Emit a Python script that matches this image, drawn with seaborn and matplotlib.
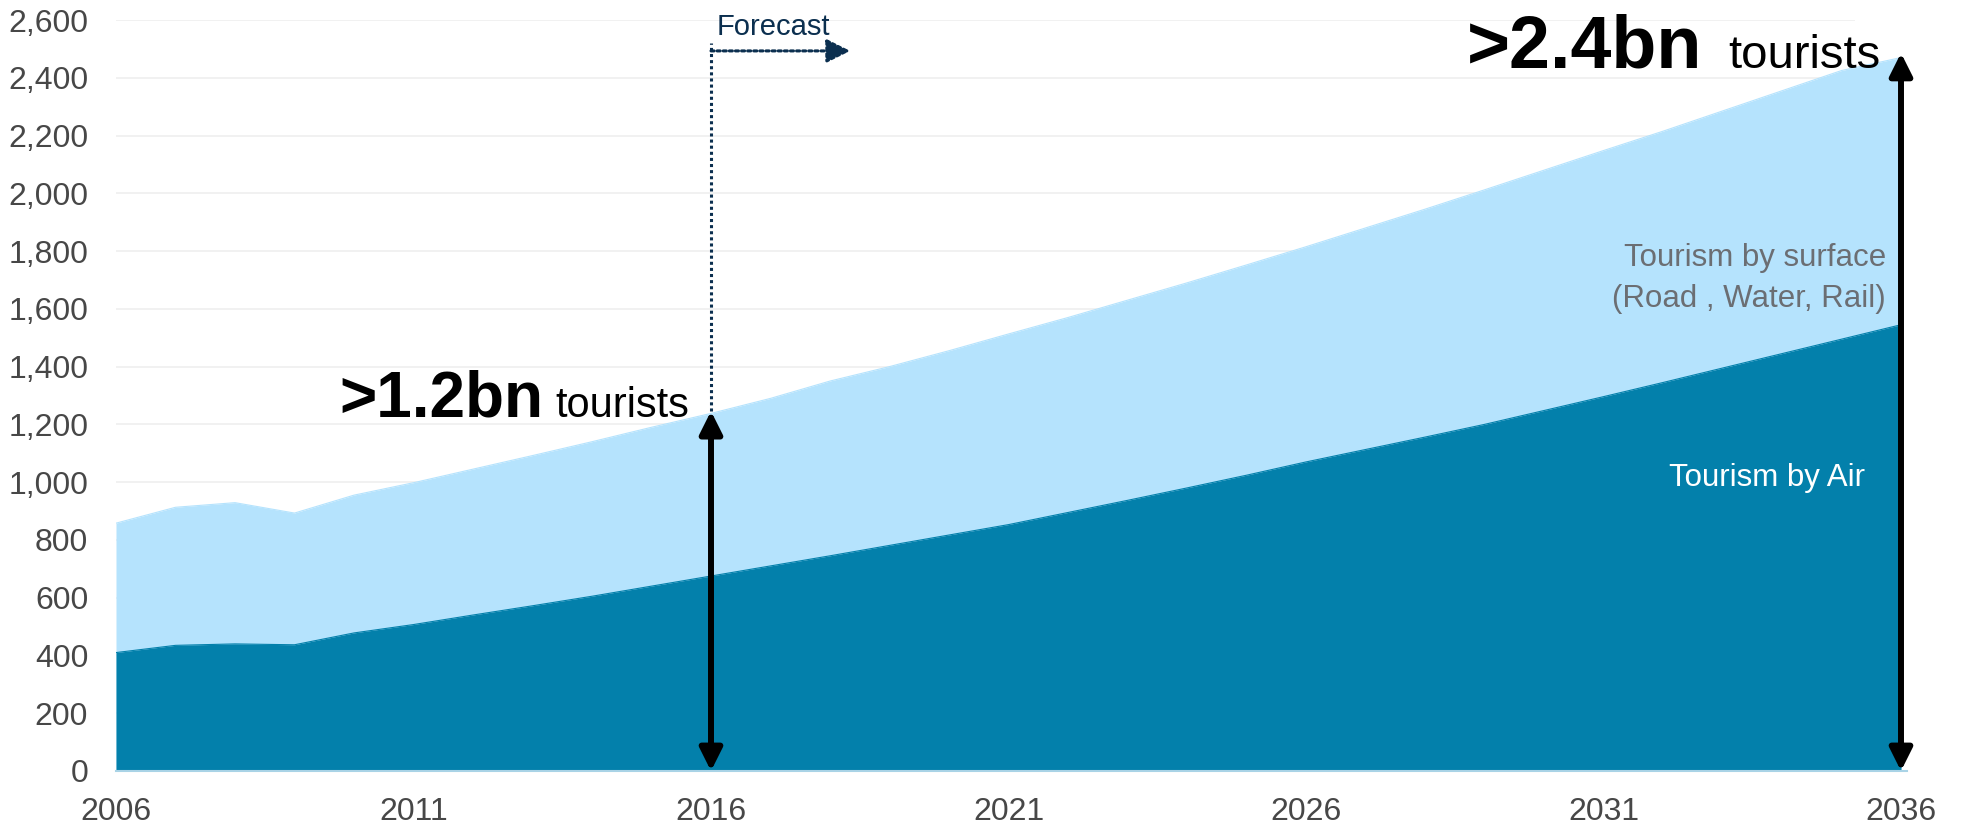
import numpy as np
import pandas as pd
import matplotlib
matplotlib.use("Agg")
import matplotlib.pyplot as plt
import seaborn as sns

# International tourist arrivals (millions), actuals to 2016 and forecast to 2036
years = list(range(2006, 2037))
total_tourists = [858, 913, 929, 893, 955, 998, 1045, 1092, 1140, 1190,
                  1238, 1290, 1350, 1400, 1455, 1513, 1570, 1630, 1690, 1752,
                  1815, 1880, 1945, 2012, 2080, 2148, 2215, 2285, 2355, 2425,
                  2470]
air_tourists = [410, 435, 440, 437, 478, 507, 540, 572, 605, 640,
                675, 710, 745, 781, 817, 853, 895, 937, 980, 1024,
                1070, 1113, 1156, 1200, 1248, 1296, 1345, 1395, 1445, 1495,
                1545]
y_ticks = list(range(0, 2601, 200))
x_label_years = [2006, 2011, 2016, 2021, 2026, 2031, 2036]

forecast_start = 2016
milestone_2016 = 1200
milestone_2036 = 2400

df = pd.DataFrame({"year": years, "total": total_tourists, "air": air_tourists})

LIGHT = "#b5e3fd"
DARK = "#0380ab"
NAVY = "#0b2f4f"
TICK_GREY = "#474747"

sns.set_theme(style="white")
plt.rcParams["font.family"] = ["Liberation Sans", "DejaVu Sans"]

fig = plt.figure(figsize=(19.79, 8.27), dpi=100)
ax = fig.add_axes([116 / 1979, 56 / 827, (30.1 * 59.5) / 1979, 751 / 827])

# stacked areas: surface on top of air
ax.fill_between(df["year"], 0, df["total"], color=LIGHT, linewidth=0, zorder=2)
ax.fill_between(df["year"], 0, df["air"], color=DARK, linewidth=0, zorder=3)
sns.lineplot(data=df, x="year", y="total", ax=ax, color=LIGHT, linewidth=0.8, zorder=2)
sns.lineplot(data=df, x="year", y="air", ax=ax, color=DARK, linewidth=0.8, zorder=3)

ax.set_xlim(2006, 2036.1)
ax.set_ylim(0, 2600)

# horizontal gridlines
ax.hlines(y_ticks[1:], 2006, 2035.23, color="#efefef", linewidth=1.2, zorder=1)

ax.set_yticks(y_ticks)
ax.set_yticklabels([f"{v:,}" for v in y_ticks])
ax.set_xticks(x_label_years)
ax.set_xticklabels([str(y) for y in x_label_years])
ax.set_xticks([y + 0.5 for y in years[:-1]], minor=True)
ax.tick_params(axis="y", length=0, pad=20, labelsize=23, labelcolor=TICK_GREY)
ax.tick_params(axis="x", which="both", length=5, width=1, color="#d9d9d9",
               direction="out", labelsize=23, labelcolor=TICK_GREY, pad=14)
ax.set_xlabel("")
ax.set_ylabel("")

for side in ["left", "right", "top"]:
    ax.spines[side].set_visible(False)
ax.spines["bottom"].set_color("#a9d3e6")
ax.spines["bottom"].set_linewidth(1.5)
ax.spines["bottom"].set_zorder(5)

# forecast marker
ax.plot([forecast_start, forecast_start], [1246, 2521], color=NAVY,
        linestyle=(0, (1, 1)), linewidth=2.2, zorder=6)
ax.annotate("", xy=(2018.34, 2493), xytext=(forecast_start, 2493),
            arrowprops=dict(arrowstyle="-|>,head_length=0.8,head_width=0.4",
                            color=NAVY, lw=2.2, linestyle=(0, (1, 1)),
                            shrinkA=0, shrinkB=0, mutation_scale=18), zorder=6)
ax.text(2016.1, 2549, "Forecast", fontsize=21, color=NAVY, va="baseline", ha="left")

# double-headed arrows for the two milestones
arrow_kw = dict(arrowstyle="<|-|>,head_length=0.9,head_width=0.45", color="black",
                lw=4.3, shrinkA=0, shrinkB=0, mutation_scale=15)
ax.annotate("", xy=(forecast_start, 0), xytext=(forecast_start, 1246),
            arrowprops=arrow_kw, zorder=7)
ax.annotate("", xy=(2036, 0), xytext=(2036, 2486),
            arrowprops=arrow_kw, zorder=7)

ax.text(2013.18, 1226, f">{milestone_2016 / 1000:.1f}bn", fontsize=46,
        fontweight="bold", color="black", ha="right", va="baseline", zorder=8)
ax.text(2013.38, 1226, "tourists", fontsize=30, color="black",
        ha="left", va="baseline", zorder=8)
ax.text(2032.67, 2434, f">{milestone_2036 / 1000:.1f}bn", fontsize=53,
        fontweight="bold", color="black", ha="right", va="baseline", zorder=8)
ax.text(2033.09, 2434, "tourists", fontsize=34, color="black",
        ha="left", va="baseline", zorder=8)

# area labels
ax.text(2035.75, 1747, "Tourism by surface", fontsize=22.5, color="#6b6e73",
        ha="right", va="baseline", zorder=8)
ax.text(2035.75, 1608, "(Road , Water, Rail)", fontsize=22.5, color="#6b6e73",
        ha="right", va="baseline", zorder=8)
ax.text(2035.4, 986, "Tourism by Air", fontsize=22.5, color="white",
        ha="right", va="baseline", zorder=8)

fig.savefig("out.png", dpi=100, facecolor="white")
